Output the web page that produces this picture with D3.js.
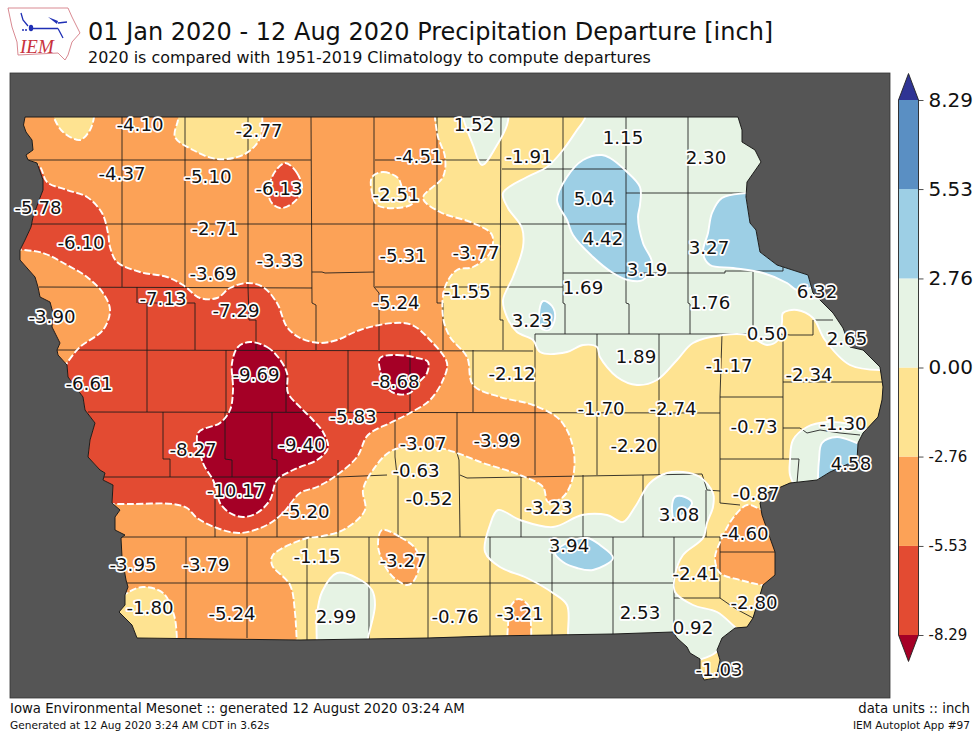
<!DOCTYPE html>
<html>
<head>
<meta charset="utf-8">
<script src="https://cdn.jsdelivr.net/npm/d3@7"></script>
<style>
  html, body { margin: 0; padding: 0; background: #fff; }
  text { font-family: "DejaVu Sans", sans-serif; }
</style>
</head>
<body>
<svg id="chart" width="980" height="735"></svg>
<script>
// map positions are in grid units: 88 across the frame, 62.5 down it
var stationNames = ["-4.10","-2.77","1.52","1.15","2.30","-4.51","-1.91","-4.37","-5.10","-6.13","5.04","-2.51","-5.78","-6.10","-2.71","4.42","3.27","-3.77","-5.31","-3.69","-3.33","-7.13","3.19","-7.29","-1.55","1.69","1.76","6.32","-5.24","-3.90","3.23","0.50","2.65","1.89","-1.17","-9.69","-8.68","-2.12","-2.34","-6.61","-1.70","-2.74","-5.83","-3.99","-1.30","-0.73","-3.07","-9.40","-8.27","-2.20","-0.63","4.58","-0.52","-0.87","-10.17","-5.20","-3.23","3.08","-4.60","3.94","-3.95","-3.79","-1.15","-3.27","-2.41","-1.80","-5.24","-2.80","-3.21","2.99","-0.76","2.53","0.92","-1.03"];
var stationX = [14,25.9,47.4,62.3,70.6,41.9,52.9,12.2,20.8,27.9,59.4,39.6,3.8,8.1,21.5,60.3,70.9,47.6,40.3,21.3,28,16.3,64.7,23.6,46.7,58.3,71,81.7,39.6,5.2,53.2,76.7,84.7,63.6,72.9,25.6,39.6,51.2,80.9,8.9,60.1,67.3,35.3,49.7,84.3,75.4,42.3,30.2,19.3,63.4,41.6,85.1,42.9,75.6,23.6,30.6,54.9,67.9,74.5,56.9,13.3,20.6,31.7,40.3,69.6,15,23.2,75.4,52,33.6,45.5,64,69.3,71.9];
var stationY = [12.4,13,12.4,13.7,15.7,15.6,15.6,17.3,17.6,18.8,19.8,19.4,20.7,24.2,22.8,23.8,24.7,25.2,25.5,27.3,26,29.8,26.9,31,29.1,28.7,30.2,29.1,30.2,31.6,32,33.3,33.8,35.6,36.5,37.4,38.1,37.3,37.4,38.3,40.8,40.8,41.6,44,42.3,42.6,44.3,44.4,44.9,44.5,47,46.3,49.8,49.3,49,51.1,50.7,51.4,53.3,54.5,56.4,56.4,55.6,56,57.3,60.7,61.3,60.2,61.3,61.6,61.6,61.2,62.7,66.9];

var barLevels = [-8.29,-5.53,-2.76,0,2.76,5.53,8.29];
var barLabels = ["-8.29","-5.53","-2.76","0.00","2.76","5.53","8.29"];

var iowaOutline = [[2.5,11.7],[73.8,11.7],[74.2,13],[74.2,14.2],[75.5,15],[76.1,16.2],[74.7,18.2],[74.6,19.7],[75,22.3],[75.6,23],[76,25.2],[77.7,26.5],[80.8,27.5],[81.3,29.3],[83.3,31.3],[84.3,32.8],[85,34.7],[86.3,35],[88,36.7],[88.3,38.7],[88.2,40],[87.8,41.7],[86.3,43.3],[85.8,44.3],[85.7,46],[83,47.2],[81.7,48],[79,48.3],[76.7,49.3],[76,50.3],[76.2,51.5],[77,53.8],[77.5,55.2],[77.5,57.5],[76.3,58.5],[75.3,61.8],[74.7,62.7],[73.5,62.8],[72.2,63.8],[71.7,65],[72,66],[71.6,67.8],[70.4,68],[70,67],[70,65.9],[69,65.3],[68.7,64.7],[67.7,63.8],[67.3,63.2],[61.3,63.4],[55.2,63.5],[49,63.6],[42.8,63.8],[36.7,63.9],[30,64],[13.7,63.8],[13.2,62.5],[11.9,61.2],[12.5,60.5],[12.5,59.5],[12.8,58.7],[12.6,58],[12.2,55.7],[12.1,53.8],[12.5,53.5],[11.5,53],[11.5,51.7],[12,51],[11.2,50.3],[11.3,48.5],[10.3,48],[10.5,47.3],[10,47],[8.8,45.7],[9,44],[9.5,42.3],[8.5,41],[8.3,39.7],[6.8,37.7],[6.7,36.5],[5.8,35.5],[5.7,35],[6,34.3],[5.2,32.7],[5.3,31.3],[5,30.2],[4,29.7],[3.8,28.7],[3.5,27.7],[2,26],[2,25],[2.5,24],[3.1,22.7],[3.3,21.7],[3.8,20.3],[4.3,19],[4.3,18],[3.7,16.3],[2.8,16],[2.6,15.5],[3.3,15],[3.2,14],[2.6,13.2],[2.35,12.5]];

// filled contour arcs, negative bands
var orangeMain = [[43.4,10.5],[43.5,11.8],[43.8,13.7],[44.5,15.7],[44.3,17.7],[42.3,19.8],[44,21.2],[47.3,22.3],[49.2,23.5],[49,25.3],[47.3,26.7],[45.7,27],[44.5,28.7],[44.3,31.7],[45,33.7],[46.7,35.7],[47.3,38.5],[50,39.7],[53.3,40.5],[56,42],[57.3,44.7],[57.3,47.7],[56.3,49.7],[54.8,50.2],[54.3,48.7],[52,47.5],[48.3,46.3],[45.7,45.3],[43.8,44.8],[39.3,45],[37.3,47],[36.3,49],[36.5,51],[34.3,53],[31.7,53.7],[30.7,53.8],[27.3,55.5],[27.2,56.5],[29,58.5],[29.5,61.3],[29.7,65]];
var orangeMainOff = [[1,66],[1,10.5]];
var orangeWest = [[1.5,24.9],[2,24.95],[4.3,25.3],[6.7,26.5],[8.7,27.7],[10.3,29.3],[11,31],[10.3,33],[8,34.7],[6.7,36.3],[6.2,37.2]];
var orangeWestOff = [[1,37.2]];
var orangeSouthCentre = [[38.2,53],[40,53.7],[41.5,54.8],[42,56.2],[41.3,58.2],[40.7,58.5],[39.3,57.7],[38.3,56.2],[37.8,54.5]];
var orangeSouth = [[50.7,64.5],[50.8,62.5],[51,60.8],[51.8,59.9],[52.8,60.5],[53.1,62.5],[53.1,64.5]];
var orangeSouthEast = [[77.5,51.5],[75.8,50.8],[74.7,50.5],[73.3,51.8],[72.2,53.8],[71.5,55.8],[72,57.3],[74,58],[77,58.7]];
var orangeSouthEastOff = [[79,59],[79,51.5]];
var redMain = [[2.4,15.8],[2.8,16.1],[4,16.7],[4.7,18.2],[6.7,19],[8.7,19.7],[10.2,21.3],[10.8,23.3],[11,24.7],[11.7,26.2],[14,27.2],[16.7,27.7],[18.3,28.5],[20,29.8],[21.7,29.8],[23,28.8],[24.7,28.3],[26.3,28.7],[27.7,30.3],[28.7,32.7],[30,33.8],[32,34.3],[33.7,34],[36,33],[39.3,32.3],[41.2,32.5],[43,34],[44.7,36.3],[44.3,38],[43,40],[41,41.3],[39,42.3],[36.8,43.5],[35.7,45.7],[33.7,47.5],[31.7,48.7],[30,49.3],[28.3,51.3],[26.7,52.5],[24,53.3],[21.7,52.8],[19.7,51.8],[18.7,50.8],[17.3,50.4],[13.3,50.4],[11,50.4]];
var redMainOff = [[1,50.4],[1,15.8]];
var redBlob = [[28.5,16.3],[29.7,17.3],[30.2,19],[29.3,20.3],[28,20.8],[27,20],[27.2,17.7]];
var darkRedMain = [[25,34.2],[26.7,34.7],[27.8,35.7],[28.7,37.3],[28.8,39.3],[30,40.7],[31.3,42],[32.3,43.2],[32.8,44.8],[31.7,46],[30,46.7],[29.3,47],[27.7,48],[27,50],[25.7,51.3],[24.3,51.7],[23,51.3],[22,50.3],[21.7,49.2],[21.3,48],[20.3,46.3],[19.8,43.3],[22,42.3],[23,41],[23.3,39],[23.2,36.3],[23.8,34.7]];
var darkRedEast = [[38,35.8],[39.7,35.5],[41.7,35.8],[42.8,36.2],[42.7,37.3],[41.8,38.3],[41,39.3],[39.7,39.4],[38.7,38.8],[38,37]];

// filled contour arcs, yellow pockets sitting inside the orange
var yellowTopWest = [[5.2,11],[5.5,12],[6.3,13.2],[8,14],[9,13],[9.4,11.7],[9.4,11]];
var yellowTopMid = [[17.9,11],[17.8,12],[17.5,13.7],[19.3,15],[21.7,15.9],[24.3,15.5],[25.8,14.2],[26.2,12.8],[26.2,11]];
var yellowLakes = [[37.2,17.7],[38.3,17.2],[39.8,17.8],[40.3,19],[41.3,20.3],[39.7,20.8],[37.7,20.5],[37.2,19.3]];
var yellowSouthWest = [[11.5,60.3],[12.7,59.3],[14.3,58.7],[16.3,59.3],[17.4,61.5],[17.7,64],[17.7,65]];
var yellowSouthWestOff = [[10,65],[10,60.3]];
var yellowTip = [[69.6,66.2],[70.2,65.9],[71.2,65.5],[72,64.9]];
var yellowTipOff = [[72.5,69],[69.5,69]];

// zero and positive contours
var paleNorthEast = [[58.5,11],[58.5,11.8],[57.7,13],[56.3,15],[54.7,16.7],[52.7,17.7],[50.3,19.3],[50.8,20.8],[52.2,22.8],[52.3,24.7],[51.3,27.7],[50.3,30],[50.7,31.7],[51.7,33.2],[53.3,34],[54,35.2],[56.7,35.2],[58.3,34.5],[59.7,34.7],[60,35.7],[61.7,37.7],[63.7,38.5],[65.7,38],[67.7,36],[69.3,34.3],[72.3,33.5],[74.7,33.5],[76.7,34.5],[77.8,34],[78.2,32.2],[78.3,31.3],[79.7,31],[81.3,31.8],[82.5,34],[85,36.5],[88,37]];
var paleNorthEastOff = [[90,37],[90,11]];
var paleTop = [[46.3,11],[46.3,11.7],[47.3,14.5],[48.2,16.5],[49.7,14.5],[50.7,12.5],[50.9,11]];
var paleSouth = [[56.8,65],[56.8,63.3],[56.7,60.5],[55.3,59.3],[52.7,57.8],[50,56.7],[48.5,55.2],[49,52.5],[49.8,51],[52,52],[55.3,52.7],[58.2,51.5],[60.7,51.5],[62.3,52.2],[63.5,50.7],[65,48.3],[66.7,47.3],[68.3,47.2],[70,47.7],[71.3,49.3],[71.3,50.7],[70.7,52.3],[70.3,53.8],[68.3,55.5],[67.5,57.5],[67.5,59.2],[69.3,60.5],[71.7,61.2],[73.5,62.7],[75,64]];
var paleSouthOff = [[76,64],[72,69],[69,69],[56.8,69]];
var paleSouthWest = [[31.7,64.5],[31.7,61.5],[32.2,59.2],[33.7,57.3],[35.7,57.8],[37.2,59],[37.5,60.5],[36.8,63.8],[36.7,64.5]];
var paleEast = [[79.7,49],[79,47.5],[79,46],[79.3,44],[80.7,42.7],[82.7,42.2],[85,42.4],[87,43]];
var paleEastOff = [[88.5,49]];
var blueNorth = [[60.2,15.5],[61,15.8],[62.5,17],[64,18.7],[64,20.5],[63.8,21.7],[64.3,24.3],[65.2,26.3],[64.3,28],[62.8,28],[61.3,27.3],[59.3,25.7],[57.3,23.5],[56.7,22],[55.7,20],[56.7,17.7],[58.3,16]];
var blueEast = [[75.5,19.2],[74.6,19.3],[72.2,19.8],[71.2,21.3],[70.8,23.3],[70.3,25.3],[71,26.5],[73.3,26.8],[76.3,27.3],[78.7,28.3],[79.7,29],[81.3,28.7]];
var blueEastOff = [[83,20]];
var blueMuscatine = [[81.8,49],[81.8,47.7],[81.9,46],[82.2,44.3],[83.7,43.7],[85.7,44.3],[87,44.7]];
var blueMuscatineOff = [[88,49]];
var blueSmallNorth = [[54.3,30.1],[55.2,30.6],[55.5,31.8],[54.9,33],[54.1,32.8],[53.9,31.5]];
var blueSmallCentre = [[67.5,49.7],[68.5,49.7],[69.2,50.3],[68.3,51.5],[67.5,52.2],[67.2,50.7]];
var blueSmallSouth = [[55.5,55.3],[56.7,54.3],[58.7,53.8],[60,54.5],[61.3,55.8],[59.3,57],[57.7,56.8],[56.3,56.2]];

// county boundaries, long straight runs plus the odd river wiggle
var countyLines = [
  [[2.8,16],[31.1,16]],[[37.5,16],[50,16]],[[50.2,16.9],[62.6,16.9]],[[62.6,19.3],[74.6,19.3]],
  [[3.2,22.4],[62.6,22.4]],[[56.3,27.3],[72.5,27.3],[72.5,27.1],[78.3,27.1],[78.3,26.6]],
  [[3.9,28.7],[31.2,28.8]],[[31.2,27.2],[32.2,27.2],[32.5,27.3],[37.4,27.2]],[[37.5,28.7],[56.3,28.7]],
  [[13.8,30.3],[19.5,30.3]],[[5.7,35],[53.3,35.1]],[[53.5,33.4],[74.7,33.4]],[[78,33.4],[79,33.5],[81.3,33.5]],
  [[8.8,41.2],[72,41.3]],[[72,39.7],[78.3,39.7]],[[78.3,38.2],[88.2,38.2]],[[78.3,42.8],[80,42.8],[80.7,43.3],[82,43],[84,43.3],[86,43.5]],
  [[72,45.9],[79.9,45.9],[79.7,48.3]],[[10.3,47.7],[33.8,47.7]],[[33.8,47.7],[38.7,47.5]],[[46,47.5],[46.7,47.8],[70.2,47.4],[70.3,47.7],[70.7,49],[72,49.1]],
  [[16.3,45.9],[17,45.9],[17,47.7]],[[22.5,45.9],[23.2,46],[23.2,47.7]],[[27.2,45.9],[27.7,46],[27.7,53.7]],
  [[12,53.7],[72,53.7]],[[72,55.2],[77.5,55.2]],[[12.7,58.3],[67.4,58.3]],[[67.4,59.8],[72,59.8]],
  [[72,59.8],[73,60.5],[73.8,61],[75.3,61.8]],[[72,50.3],[74,50.5]],
  [[12.2,11.7],[12.2,28.7]],[[18.5,11.7],[18.5,28.7]],[[24.8,11.7],[24.8,28.7],[24.9,32],[25.6,32],[25.6,35]],
  [[31.1,11.7],[31.2,30.3],[31.6,30.5],[31.6,35]],[[37.4,11.7],[37.4,28.7],[37.9,29.3],[37.9,35]],
  [[43.7,11.7],[43.7,30.3],[44.3,30.3],[44.3,35]],[[50.1,11.7],[50,32],[50.3,32],[50.3,35]],
  [[56.3,11.7],[56.3,30.3],[56.5,30.4],[56.5,33.4]],[[62.6,11.7],[62.6,30.3],[62.9,30.4],[62.9,33.4]],
  [[68.8,11.7],[68.8,30.3],[69,30.4],[69,33.4]],[[75.3,27.1],[75.3,33]],[[81.3,33.5],[81.3,32],[83.3,32]],
  [[13.7,28.7],[13.7,30.3]],[[14.7,30.3],[14.7,35]],[[19.5,30.3],[19.5,35]],
  [[14.7,35],[14.7,41.2]],[[22.6,35],[22.6,41.2]],[[28.6,35],[28.6,41.2]],[[34.8,35],[34.8,41.2]],[[41,35],[41,41.2]],[[47.3,35],[47.3,41.2]],
  [[53.5,33.4],[53.5,47.5]],[[59.7,33.4],[59.7,47.5]],[[65.9,33.4],[65.9,47.5]],[[72.2,33.4],[72,39.7],[72,50.3]],[[78.3,33.4],[78.3,45.9]],
  [[16.3,41.2],[16.3,45.9]],[[22.5,41.2],[22.5,45.9]],[[27.2,41.2],[27.2,45.9]],
  [[39.5,41.2],[39.5,45.7],[39.7,47.5]],[[45.7,41.2],[45.7,45.3],[45.9,46],[46,53.7]],[[33.8,46],[33.8,53.7]],[[39.8,47.6],[39.8,53.7]],
  [[21.5,49.3],[21.5,53.7]],[[52.1,47.5],[52.1,53.7]],[[58.3,47.5],[58.3,53.7]],[[64.3,47.5],[64.3,53.7]],[[70.6,49],[70.6,53.7]],
  [[18.6,53.7],[18.6,63.8]],[[24.7,53.7],[24.7,63.8]],[[30.7,53.7],[30.7,64]],[[36.9,53.7],[36.9,63.9]],[[42.8,53.7],[42.8,63.8]],[[49,53.7],[49,63.6]],[[55.2,53.7],[55.2,63.5]],[[61.3,53.7],[61.3,63.4]],
  [[67.4,53.7],[67.4,63.2]],[[72,53.7],[72,59.8]]
];

var colors = { darkRed: "#a50026", red: "#e34b32", orange: "#fca257", yellow: "#fee391", pale: "#e6f3e4", light: "#9dcfe5", blue: "#5a8fc3", navy: "#2f3494" };
var barColors = [colors.red, colors.orange, colors.yellow, colors.pale, colors.light, colors.blue];
var frameColor = "#555555";

var svg = d3.select("#chart");

var x = d3.scaleLinear().domain([1, 89]).range([10, 890]);
var y = d3.scaleLinear().domain([7.3, 69.8]).range([73, 698]);
var barY = d3.scaleLinear().domain([-8.29, 8.29]).range([635, 100]);
var barExtend = 0.82;

var straight = d3.line().x(function(d) { return x(d[0]); }).y(function(d) { return y(d[1]); });
var smooth = d3.line().x(function(d) { return x(d[0]); }).y(function(d) { return y(d[1]); }).curve(d3.curveCatmullRom.alpha(0.5));
var smoothClosed = d3.line().x(function(d) { return x(d[0]); }).y(function(d) { return y(d[1]); }).curve(d3.curveCatmullRomClosed.alpha(0.5));

// painter's order: each layer sits on what was painted before it
// off = straight closing run outside the state, no off means a closed blob
var layers = [
  { pts: paleNorthEast, off: paleNorthEastOff, fill: colors.pale },
  { pts: paleTop, off: [], fill: colors.pale },
  { pts: paleSouth, off: paleSouthOff, fill: colors.pale },
  { pts: paleSouthWest, off: [], fill: colors.pale },
  { pts: paleEast, off: paleEastOff, fill: colors.pale },
  { pts: blueNorth, fill: colors.light },
  { pts: blueEast, off: blueEastOff, fill: colors.light },
  { pts: blueMuscatine, off: blueMuscatineOff, fill: colors.light },
  { pts: blueSmallNorth, fill: colors.light },
  { pts: blueSmallCentre, fill: colors.light },
  { pts: blueSmallSouth, fill: colors.light },
  { pts: yellowTip, off: yellowTipOff, fill: colors.yellow },
  { pts: orangeMain, off: orangeMainOff, fill: colors.orange, dashed: true },
  { pts: orangeSouthCentre, fill: colors.orange, dashed: true },
  { pts: orangeSouth, off: [], fill: colors.orange, dashed: true },
  { pts: orangeSouthEast, off: orangeSouthEastOff, fill: colors.orange, dashed: true },
  { pts: yellowTopWest, off: [], fill: colors.yellow, dashed: true },
  { pts: yellowTopMid, off: [], fill: colors.yellow, dashed: true },
  { pts: yellowLakes, fill: colors.yellow, dashed: true },
  { pts: yellowSouthWest, off: yellowSouthWestOff, fill: colors.yellow, dashed: true },
  { pts: redMain, off: redMainOff, fill: colors.red, dashed: true },
  { pts: redBlob, fill: colors.red, dashed: true },
  { pts: orangeWest, off: orangeWestOff, fill: colors.orange, dashed: true },
  { pts: darkRedMain, fill: colors.darkRed, dashed: true },
  { pts: darkRedEast, fill: colors.darkRed, dashed: true }
];

svg.append("clipPath").attr("id", "iowa").append("path").attr("d", straight(iowaOutline) + "Z");

// frame
svg.append("rect").attr("x", x(1)).attr("y", y(7.3)).attr("width", x(89) - x(1)).attr("height", y(69.8) - y(7.3))
  .attr("fill", frameColor).attr("stroke", "#333").attr("stroke-width", 0.8);

var map = svg.append("g").attr("clip-path", "url(#iowa)");
map.append("path").attr("d", straight(iowaOutline) + "Z").attr("fill", colors.yellow);

function fillPath(layer) {
  if (!layer.off) return smoothClosed(layer.pts);
  var closing = layer.off.map(function(p) { return "L" + x(p[0]) + "," + y(p[1]); }).join("");
  return smooth(layer.pts) + closing + "Z";
}

map.selectAll("path.band").data(layers).join("path")
  .attr("class", "band")
  .attr("d", fillPath)
  .attr("fill", function(d) { return d.fill; });

map.selectAll("path.county").data(countyLines).join("path")
  .attr("class", "county")
  .attr("d", straight)
  .attr("fill", "none")
  .attr("stroke", "#1a1a1a")
  .attr("stroke-opacity", 0.85)
  .attr("stroke-width", 1);

// contour lines go on top, white and dashed below zero
map.selectAll("path.contour").data(layers).join("path")
  .attr("class", "contour")
  .attr("d", function(d) { return d.off ? smooth(d.pts) : smoothClosed(d.pts); })
  .attr("fill", "none")
  .attr("stroke", "#fff")
  .attr("stroke-width", 1.9)
  .attr("stroke-dasharray", function(d) { return d.dashed ? "7,2.5" : null; });

svg.append("path").attr("d", straight(iowaOutline) + "Z")
  .attr("fill", "none").attr("stroke", "#1c1c1c").attr("stroke-width", 1);

svg.selectAll("text.station").data(stationNames).join("text")
  .attr("class", "station")
  .attr("x", function(d, i) { return x(stationX[i]); })
  .attr("y", function(d, i) { return y(stationY[i]); })
  .attr("text-anchor", "middle")
  .attr("dominant-baseline", "central")
  .attr("font-size", 18.2)
  .attr("fill", "#111")
  .attr("stroke", "#fff")
  .attr("stroke-width", 3.4)
  .attr("stroke-linejoin", "round")
  .attr("paint-order", "stroke")
  .text(function(d) { return d; });

// colour bar
var bar = svg.append("g");
bar.selectAll("rect").data(barColors).join("rect")
  .attr("x", 898.5).attr("width", 20)
  .attr("y", function(d, i) { return barY(barLevels[i + 1]); })
  .attr("height", function(d, i) { return barY(barLevels[i]) - barY(barLevels[i + 1]); })
  .attr("fill", function(d) { return d; });
bar.append("path")
  .attr("d", "M898.5," + barY(8.29) + "L908.5," + barY(8.29 + barExtend) + "L918.5," + barY(8.29) + "Z")
  .attr("fill", colors.navy);
bar.append("path")
  .attr("d", "M898.5," + barY(-8.29) + "L908.5," + barY(-8.29 - barExtend) + "L918.5," + barY(-8.29) + "Z")
  .attr("fill", colors.darkRed);
bar.append("path")
  .attr("d", "M898.5," + barY(8.29) + "L908.5," + barY(8.29 + barExtend) + "L918.5," + barY(8.29) + "V" + barY(-8.29) + "L908.5," + barY(-8.29 - barExtend) + "L898.5," + barY(-8.29) + "Z")
  .attr("fill", "none").attr("stroke", "#222").attr("stroke-width", 0.9);

var barAxis = d3.axisRight(barY).tickValues(barLevels).tickSize(5).tickPadding(5)
  .tickFormat(function(d, i) { return barLabels[i]; });
var axisG = svg.append("g").attr("transform", "translate(918.5,0)").call(barAxis);
axisG.select(".domain").remove();
axisG.selectAll(".tick line").attr("stroke", "#222").attr("stroke-width", 0.8);
axisG.selectAll(".tick text")
  .attr("fill", "#111")
  .style("font-family", '"DejaVu Sans", sans-serif')
  .style("font-size", function(d) { return d < 0 ? "15px" : "20px"; });

// titles and footer
function label(text, xPos, yPos, size, anchor) {
  svg.append("text").attr("x", xPos).attr("y", yPos).attr("font-size", size)
    .attr("text-anchor", anchor || "start").attr("fill", "#111").text(text);
}
label("01 Jan 2020 - 12 Aug 2020 Precipitation Departure [inch]", 88, 40, 24);
label("2020 is compared with 1951-2019 Climatology to compute departures", 88, 63, 15.95);
label("Iowa Environmental Mesonet :: generated 12 August 2020 03:24 AM", 10, 713, 13.25);
label("Generated at 12 Aug 2020 3:24 AM CDT in 3.62s", 10, 729, 10.6);
label("data units :: inch", 970, 713, 13.25, "end");
label("IEM Autoplot App #97", 970, 729, 10.6, "end");

// IEM logo
var logo = svg.append("g");
logo.append("path")
  .attr("d", "M8,8L68,8L72,17L80,33L72,42L68,55L65,60L58,53L18,55L17,42L12,27Z")
  .attr("fill", "#fff").attr("stroke", "#d98a92").attr("stroke-width", 1);
logo.append("path")
  .attr("d", "M31,28.5L58,28.5M58,28.5L63,38M21,13L23,20L28,26M58,23L67,22")
  .attr("fill", "none").attr("stroke", "#1f2fb5").attr("stroke-width", 1.3);
logo.append("ellipse").attr("cx", 31).attr("cy", 28).attr("rx", 2.2).attr("ry", 3.2).attr("fill", "#1f2fb5");
logo.append("path").attr("d", "M48,17L58,21L57,24Z").attr("fill", "#1f2fb5");
logo.append("circle").attr("cx", 23).attr("cy", 30).attr("r", 1).attr("fill", "#1f2fb5");
logo.append("circle").attr("cx", 26).attr("cy", 30).attr("r", 1).attr("fill", "#1f2fb5");
logo.append("text").attr("x", 20).attr("y", 53).attr("font-size", 19).attr("font-style", "italic")
  .style("font-family", '"Liberation Serif", serif').attr("fill", "#c8323c").text("IEM");
</script>
</body>
</html>
